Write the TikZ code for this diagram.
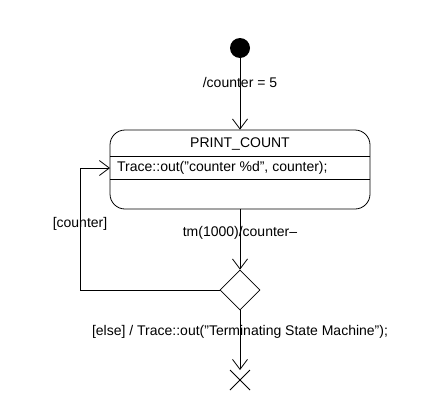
\documentclass[tikz,border=0pt]{standalone}
\usepackage{fontspec}
\setmainfont{Liberation Sans}
\usetikzlibrary{arrows.meta,shapes.geometric}
\begin{document}
\begin{tikzpicture}[x=1pt,y=-1pt,
  txt/.style={font=\fontsize{14}{16}\selectfont, inner sep=0pt},
  trans/.style={draw, line width=0.8pt, -{Straight Barb[length=10pt,width=15pt,line width=0.8pt]}},
  statebox/.style={draw, line width=0.8pt, rounded corners=15pt},
  ln/.style={draw, line width=0.8pt}]
\useasboundingbox (0,0) rectangle (430,410);
\node[circle, fill=black, minimum size=20pt, inner sep=0pt] (init) at (240,48) {};
\node[statebox, minimum width=260pt, minimum height=79pt, inner sep=0pt] (st) at (240,169.5) {};
\coordinate (s1l) at (110,156); \coordinate (s1r) at (370,156);
\coordinate (s2l) at (110,179); \coordinate (s2r) at (370,179);
\draw[ln] (s1l) -- (s1r);
\draw[ln] (s2l) -- (s2r);
\node[txt] (title) at (240,144) {PRINT\_COUNT};
\node[txt, anchor=west] (entry) at (117,168) {Trace::out("counter \%d", counter);};
\node[diamond, draw, line width=0.8pt, minimum width=40pt, minimum height=40pt, inner sep=0pt, aspect=1] (ch) at (240,290) {};
\coordinate (fin) at (240,380);
\coordinate (finT) at (240,370);
\draw[ln] (230,370) -- (250,390);
\draw[ln] (250,370) -- (230,390);
\draw[trans] (init) -- (st.north);
\draw[trans] (st.south) -- (ch.north);
\coordinate (lc) at (80,290);
\coordinate (lt) at (80,168);
\draw[trans] (ch.west) -- (lc) -- (lt) -- (110,168);
\draw[trans] (ch.south) -- (finT);
\node[txt] (l1) at (240,82) {/counter = 5};
\node[txt] (l2) at (240,233) {tm(1000)/counter--};
\node[txt] (l3) at (80,224) {[counter]};
\node[txt] (l4) at (240,332) {[else] / Trace::out("Terminating State Machine");};
\end{tikzpicture}
\end{document}
